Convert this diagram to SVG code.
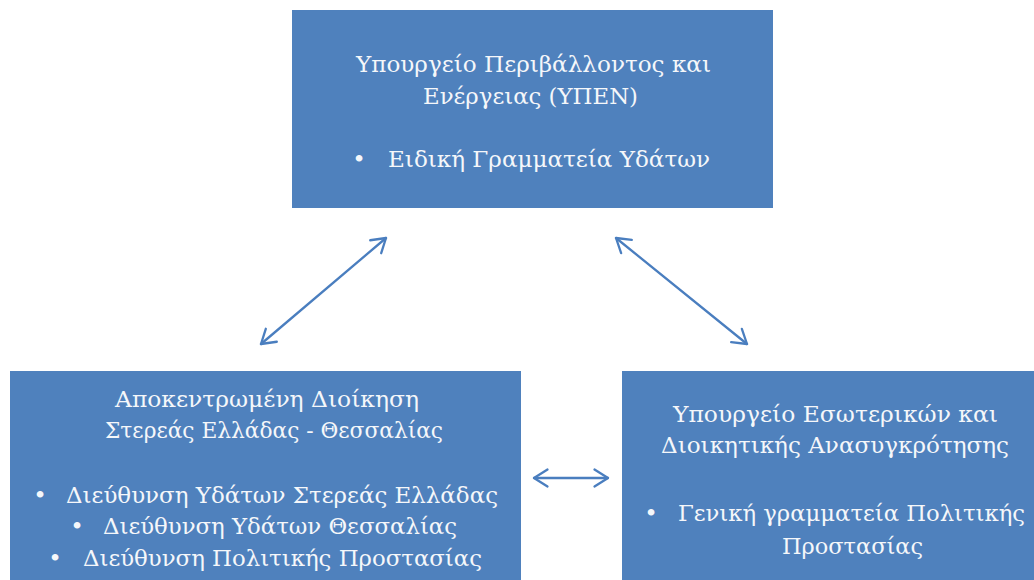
<svg xmlns="http://www.w3.org/2000/svg" width="1034" height="580" viewBox="0 0 1034 580">
<style>
.box{fill:#4F81BD;}
.t{font-family:"DejaVu Serif","Liberation Serif",serif;font-size:23px;fill:#F5F7FA;}
.b{font-family:"DejaVu Serif","Liberation Serif",serif;font-size:23px;fill:#F5F7FA;text-anchor:middle;}
.c{stroke:#4A7EBF;stroke-width:2.3;fill:none;stroke-linecap:round;}
</style>
<defs>
<marker id="ah" viewBox="-17 -11 19 22" refX="0" refY="0" markerWidth="19" markerHeight="22" markerUnits="userSpaceOnUse" orient="auto-start-reverse">
<path d="M-13.5,-8.5 L0,0 L-13.5,8.5" fill="none" stroke="#4A7EBF" stroke-width="2.3" stroke-linecap="round" stroke-linejoin="round"/>
</marker>
</defs>
<rect width="1034" height="580" fill="#FFFFFF"/>
<g id="node-ypen">
<rect class="box" x="292" y="10" width="481" height="198"/>
<text class="t" x="356" y="72" textLength="355" lengthAdjust="spacingAndGlyphs">Υπουργείο Περιβάλλοντος και</text>
<text class="t" x="423" y="103.5" textLength="215" lengthAdjust="spacingAndGlyphs">Ενέργειας (ΥΠΕΝ)</text>
<text class="b" x="359" y="167">•</text>
<text class="t" x="388" y="167" textLength="322" lengthAdjust="spacingAndGlyphs">Ειδική Γραμματεία Υδάτων</text>
</g>
<g id="node-apokentromeni">
<rect class="box" x="10" y="371" width="511" height="215"/>
<text class="t" x="115" y="406.5" textLength="304" lengthAdjust="spacingAndGlyphs">Αποκεντρωμένη Διοίκηση</text>
<text class="t" x="105" y="438" textLength="338" lengthAdjust="spacingAndGlyphs">Στερεάς Ελλάδας - Θεσσαλίας</text>
<text class="b" x="40" y="502.5">•</text>
<text class="t" x="66" y="502.5" textLength="432" lengthAdjust="spacingAndGlyphs">Διεύθυνση Υδάτων Στερεάς Ελλάδας</text>
<text class="b" x="77" y="534">•</text>
<text class="t" x="103" y="534" textLength="354" lengthAdjust="spacingAndGlyphs">Διεύθυνση Υδάτων Θεσσαλίας</text>
<text class="b" x="55" y="565.5">•</text>
<text class="t" x="83" y="565.5" textLength="399" lengthAdjust="spacingAndGlyphs">Διεύθυνση Πολιτικής Προστασίας</text>
</g>
<g id="node-esoterikon">
<rect class="box" x="622" y="371" width="412" height="215"/>
<text class="t" x="673" y="421.5" textLength="325" lengthAdjust="spacingAndGlyphs">Υπουργείο Εσωτερικών και</text>
<text class="t" x="661" y="453" textLength="348" lengthAdjust="spacingAndGlyphs">Διοικητικής Ανασυγκρότησης</text>
<text class="b" x="651" y="521">•</text>
<text class="t" x="678" y="521" textLength="347" lengthAdjust="spacingAndGlyphs">Γενική γραμματεία Πολιτικής</text>
<text class="t" x="782" y="553.5" textLength="141" lengthAdjust="spacingAndGlyphs">Προστασίας</text>
</g>
<g id="connectors">
<line class="c" x1="261" y1="344" x2="386" y2="238" marker-start="url(#ah)" marker-end="url(#ah)"/>
<line class="c" x1="616" y1="238" x2="747" y2="344" marker-start="url(#ah)" marker-end="url(#ah)"/>
<line class="c" x1="534" y1="478" x2="608" y2="478" marker-start="url(#ah)" marker-end="url(#ah)"/>
</g>
</svg>
